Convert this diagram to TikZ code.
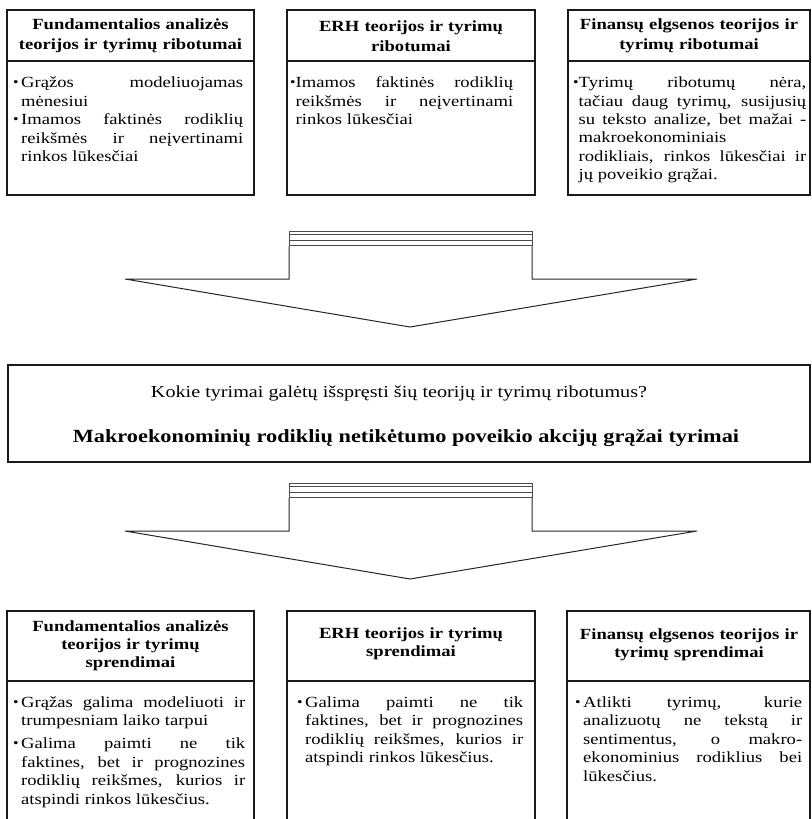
\documentclass[tikz,border=0pt]{standalone}
\usepackage{fontspec}
\setmainfont[FakeStretch=1.2]{Liberation Serif}
\tolerance=10000
\hbadness=10000

% bulleted item: bullet box followed by a justified paragraph box
\newlength\bulw
\newlength\itemw
\newcommand\bodyset[3]{% bullet width, item gap, total width
  \setlength\bulw{#1}\setlength\lineskip{#2}\setlength\lineskiplimit{0pt}%
  \setlength\itemw{\dimexpr#3-#1\relax}}
\newcommand\bitem[1]{\par\noindent
  \makebox[\bulw][l]{\raisebox{1pt}{\scalebox{.85}{•}}}%
  \parbox[t]{\itemw}{\spaceskip=0pt \xspaceskip=0pt \rightskip=0pt \strut#1\strut}\par}

\tikzset{
  frame/.style={draw=black!90, line width=1.2pt},
  arrowline/.style={draw=black!85, line width=1pt, line join=miter},
  stackline/.style={draw=black!70, line width=0.9pt},
  head/.style={inner sep=0pt, align=center, font=\fontsize{15.5}{20}\selectfont\bfseries},
  headlow/.style={inner sep=0pt, align=center, font=\fontsize{15.5}{18}\selectfont\bfseries},
  body/.style={inner sep=0pt, anchor=north west, font=\fontsize{15.5}{18.3}\selectfont},
  bodylow/.style={inner sep=0pt, anchor=north west, font=\fontsize{15.5}{18.5}\selectfont},
  midq/.style={inner sep=0pt, anchor=base, font=\fontsize{16.8}{20}\selectfont},
  mida/.style={inner sep=0pt, anchor=base, font=\fontsize{18.6}{22}\selectfont\bfseries},
}

\begin{document}
\begin{tikzpicture}[x=1pt,y=-1pt]
\useasboundingbox (0,0) rectangle (811,819);

% ---- upper row: limitations ----
\foreach \xa/\xb in {7/254, 287/535, 568/810} {
  \draw[frame] (\xa,10) rectangle (\xb,195);
  \draw[frame] (\xa,61) -- (\xb,61);
}
\node[head, text width=240pt] (h1) at (130.5,36) {Fundamentalios analizės\\teorijos ir tyrimų ribotumai};
\node[head, text width=240pt] (h2) at (411,36) {ERH teorijos ir tyrimų\\ribotumai};
\node[head, text width=236pt] (h3) at (689,36) {Finansų elgsenos teorijos ir\\tyrimų ribotumai};

\node[body, text width=230pt] (b1) at (13,69.3) {\bodyset{8pt}{0.5pt}{230pt}%
  \bitem{Grąžos modeliuojamas\linebreak mėnesiui}
  \bitem{Imamos faktinės rodiklių\linebreak reikšmės ir neįvertinami\linebreak rinkos lūkesčiai}};
\node[body, text width=223pt] (b2) at (290,69.3) {\bodyset{5.5pt}{0.5pt}{223pt}%
  \bitem{Imamos faktinės rodiklių\linebreak reikšmės ir neįvertinami\linebreak rinkos lūkesčiai}};
\node[body, text width=233pt] (b3) at (573,69.3) {\bodyset{5.5pt}{0.5pt}{233pt}%
  \bitem{Tyrimų ribotumų nėra,\linebreak tačiau daug tyrimų, susijusių\linebreak su teksto analize, bet mažai -\linebreak makroekonominiais\linebreak rodikliais, rinkos lūkesčiai ir\linebreak jų poveikio grąžai.}};

% ---- first block arrow ----
\draw[arrowline] (289,246) -- (289,279) -- (125,279) -- (410,327) -- (697,279) -- (532,279) -- (532,246);
\draw[stackline] (289,231) rectangle (532,245.7);
\draw[stackline] (289,234.5) -- (532,234.5);
\draw[stackline] (289,240) -- (532,240);

% ---- middle question ----
\draw[frame] (8,365) rectangle (810,462);
\node[midq] (q) at (399,397) {Kokie tyrimai galėtų išspręsti šių teorijų ir tyrimų ribotumus?};
\node[mida] (a) at (406,442) {Makroekonominių rodiklių netikėtumo poveikio akcijų grąžai tyrimai};

% ---- second block arrow ----
\draw[arrowline] (289,498) -- (289,531) -- (125,531) -- (410,579) -- (697,531) -- (532,531) -- (532,498);
\draw[stackline] (289,483) rectangle (532,497.7);
\draw[stackline] (289,486.5) -- (532,486.5);
\draw[stackline] (289,492) -- (532,492);

% ---- lower row: solutions ----
\foreach \xa/\xb in {7/254, 287/535, 567/810} {
  \draw[frame] (\xa,819) -- (\xa,611) -- (\xb,611) -- (\xb,819);
  \draw[frame] (\xa,681) -- (\xb,681);
}
\node[headlow, text width=240pt] (s1) at (130.5,646) {Fundamentalios analizės\\teorijos ir tyrimų\\sprendimai};
\node[headlow, text width=240pt] (s2) at (411,644) {ERH teorijos ir tyrimų\\sprendimai};
\node[headlow, text width=236pt] (s3) at (689,645) {Finansų elgsenos teorijos ir\\tyrimų sprendimai};

\node[bodylow, text width=232pt] (c1) at (13,688.7) {\bodyset{8pt}{4.5pt}{232pt}%
  \bitem{Grąžas galima modeliuoti ir\linebreak trumpesniam laiko tarpui}
  \bitem{Galima paimti ne tik\linebreak faktines, bet ir prognozines\linebreak rodiklių reikšmes, kurios ir\linebreak atspindi rinkos lūkesčius.}};
\node[bodylow, text width=226pt] (c2) at (297,688.7) {\bodyset{8pt}{4.5pt}{226pt}%
  \bitem{Galima paimti ne tik\linebreak faktines, bet ir prognozines\linebreak rodiklių reikšmes, kurios ir\linebreak atspindi rinkos lūkesčius.}};
\node[bodylow, text width=227pt] (c3) at (575,688.7) {\bodyset{8pt}{4.5pt}{227pt}%
  \bitem{Atlikti tyrimų, kurie\linebreak analizuotų ne tekstą ir\linebreak sentimentus, o makro-\linebreak ekonominius rodiklius bei\linebreak lūkesčius.}};
\end{tikzpicture}
\end{document}
